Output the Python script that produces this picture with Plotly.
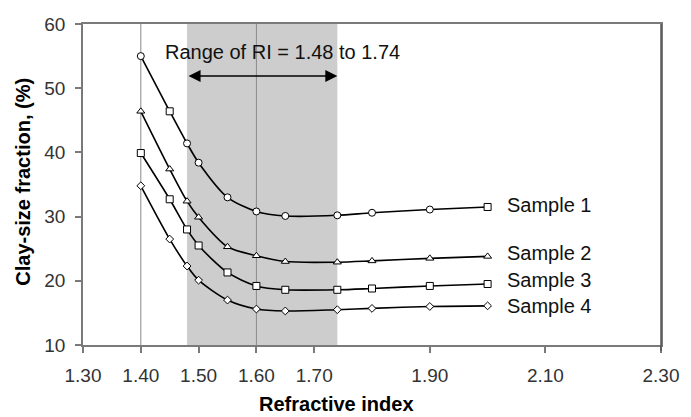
import plotly.graph_objects as go

ri = [1.40, 1.45, 1.48, 1.50, 1.55, 1.60, 1.65, 1.74, 1.80, 1.90, 2.00]
sample1 = [55.0, 46.4, 41.4, 38.4, 33.0, 30.8, 30.1, 30.2, 30.6, 31.1, 31.5]
sample2 = [46.4, 37.4, 32.4, 29.9, 25.3, 23.9, 23.0, 22.9, 23.1, 23.5, 23.8]
sample3 = [39.9, 32.7, 28.0, 25.5, 21.3, 19.2, 18.6, 18.6, 18.8, 19.2, 19.5]
sample4 = [34.8, 26.5, 22.3, 20.1, 17.0, 15.6, 15.3, 15.5, 15.7, 16.0, 16.1]
series_names = ["Sample 1", "Sample 2", "Sample 3", "Sample 4"]
label_y = [31.8, 24.3, 20.1, 16.0]
label_x = 2.03

sym1 = ["circle", "square", "circle", "circle", "circle", "circle", "circle",
        "circle", "circle", "circle", "square"]
symbols = [sym1, "triangle-up", "square", "diamond"]
sizes = [7, 7, 7, 6]

xtick_vals = [1.30, 1.40, 1.50, 1.60, 1.70, 1.90, 2.10, 2.30]
xtick_text = ["1.30", "1.40", "1.50", "1.60", "1.70", "1.90", "2.10", "2.30"]
ytick_vals = [10, 20, 30, 40, 50, 60]

ri_low, ri_high = 1.48, 1.74
ref_lines = [1.40, 1.60]
arrow_y = 51.9
range_text = "Range of RI = 1.48 to 1.74"

FONT = "Liberation Sans, Arial, sans-serif"

fig = go.Figure()

for name, ys, sym, sz in zip(series_names, [sample1, sample2, sample3, sample4], symbols, sizes):
    fig.add_trace(go.Scatter(
        x=ri, y=ys, name=name, mode="lines+markers",
        line=dict(color="black", width=1.6, shape="spline", smoothing=0.8),
        marker=dict(symbol=sym, size=sz, color="white",
                    line=dict(color="black", width=1)),
        showlegend=False,
    ))

# shaded range
fig.add_shape(type="rect", xref="x", yref="y", x0=ri_low, x1=ri_high, y0=10, y1=60,
              fillcolor="#cdcdcd", line=dict(width=0), layer="below")
for xv in ref_lines:
    fig.add_shape(type="line", xref="x", yref="y", x0=xv, x1=xv, y0=10, y1=60,
                  line=dict(color="#8a8a8a", width=1), layer="below")

# double-headed arrow
fig.add_annotation(x=ri_high, y=arrow_y, ax=ri_low, ay=arrow_y, xref="x", yref="y",
                   axref="x", ayref="y", text="", showarrow=True,
                   arrowhead=2, startarrowhead=2, arrowside="end+start",
                   arrowsize=1.6, startarrowsize=1.6, arrowwidth=1.5, arrowcolor="black")
fig.add_annotation(x=1.645, y=55.6, xref="x", yref="y", text=range_text, showarrow=False,
                   font=dict(family=FONT, size=20, color="#111111"))

for name, ly in zip(series_names, label_y):
    fig.add_annotation(x=label_x, y=ly, xref="x", yref="y", text=name, showarrow=False,
                       xanchor="left", font=dict(family=FONT, size=20, color="#111111"))

# axis titles (paper coords relative to plot area: 585 x 321 px)
fig.add_annotation(x=(340 - 83) / 585, y=(345 - 404) / 321, xref="paper", yref="paper",
                   xanchor="center", yanchor="middle",
                   text="<b>Refractive index</b>", showarrow=False,
                   font=dict(family=FONT, size=20, color="black"))
fig.add_annotation(x=(22 - 83) / 585, y=(345 - 182) / 321, xref="paper", yref="paper",
                   xanchor="center", yanchor="middle",
                   text="<b>Clay-size fraction, (%)</b>", showarrow=False, textangle=-90,
                   font=dict(family=FONT, size=20, color="black"))

fig.update_xaxes(range=[1.30, 2.30], tickvals=xtick_vals, ticktext=xtick_text,
                 showgrid=False, zeroline=False, showline=True, mirror=True,
                 linecolor="#7a7a7a", linewidth=1.5, ticks="outside", ticklen=6,
                 tickcolor="#7a7a7a", tickwidth=1.5, ticklabelstandoff=6,
                 tickfont=dict(family=FONT, size=19, color="#333333"))
fig.update_yaxes(range=[10, 60], tickvals=ytick_vals,
                 showgrid=False, zeroline=False, showline=True, mirror=True,
                 linecolor="#7a7a7a", linewidth=1.5, ticks="outside", ticklen=6,
                 tickcolor="#7a7a7a", tickwidth=1.5, ticklabelstandoff=6,
                 tickfont=dict(family=FONT, size=19, color="#333333"))

# darker right border
fig.add_shape(type="line", xref="paper", yref="paper", x0=1, x1=1, y0=-0.018, y1=1,
              line=dict(color="#555555", width=1.5))

fig.update_layout(width=691, height=417, margin=dict(l=83, r=23, t=24, b=72),
                  plot_bgcolor="white", paper_bgcolor="white")

fig.write_html("out.html")
